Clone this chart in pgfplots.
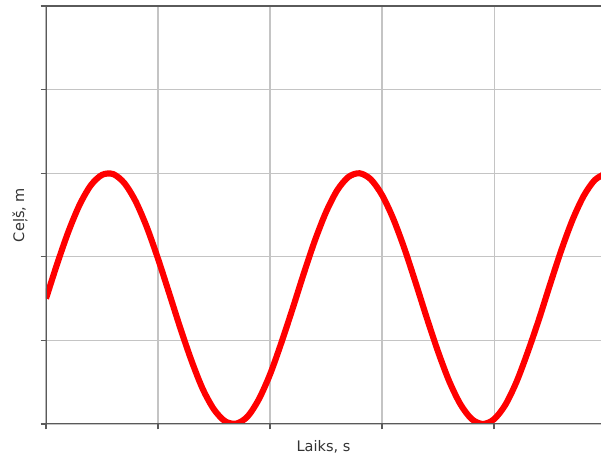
\documentclass[border=0pt]{standalone}
\usepackage{pgfplots}
\pgfplotsset{compat=1.18}
\usepackage{fontspec}
\setmainfont{DejaVu Sans}
\usetikzlibrary{calc}
\definecolor{spine}{HTML}{5A5A5A}
\definecolor{gridc}{HTML}{C4C4C4}
\definecolor{curve}{HTML}{FF0000}

\pgfplotstableread{
x    y
0.0  1.500
0.1  1.917
0.2  2.301
0.3  2.622
0.4  2.855
0.5  2.980
0.6  2.989
0.7  2.881
0.8  2.664
0.9  2.355
1.0  1.977
1.1  1.563
1.2  1.144
1.3  0.754
1.4  0.417
1.5  0.174
1.6  0.032
1.7  0.005
1.8  0.090
1.9  0.295
2.0  0.593
2.1  0.967
2.2  1.373
2.3  1.794
2.4  2.192
2.5  2.534
2.6  2.796
2.7  2.955
2.8  2.999
2.9  2.926
3.0  2.739
3.1  2.456
3.2  2.098
3.3  1.690
3.4  1.268
3.5  0.866
3.6  0.511
3.7  0.236
3.8  0.060
3.9  0.000
4.0  0.057
4.1  0.227
4.2  0.502
4.3  0.857
4.4  1.248
4.5  1.669
4.6  2.077
4.7  2.439
4.8  2.727
4.9  2.919
5.0  2.998
}\pathdata

\begin{document}
\begin{tikzpicture}
\begin{axis}[
  name=ax,
  scale only axis,
  width=416.25pt, height=313.5pt,
  xmin=0, xmax=4.955, ymin=0, ymax=5,
  xtick={0,1,2,3,4}, ytick={0,1,2,3,4,5},
  xticklabels={}, yticklabels={},
  xtick pos=bottom, ytick pos=left,
  tick align=outside,
  major tick length=4pt,
  tick style={draw=spine, line width=0.9pt},
  grid=major,
  grid style={draw=gridc, line width=0.8pt},
  axis line style={draw=none},
  font=\fontsize{10.9}{13}\selectfont,
  xlabel={Laiks, s},
  ylabel={Ceļš, m},
  xlabel style={at={(axis description cs:0.5,-0.055)}, anchor=center, text=black!80},
  ylabel style={at={(axis description cs:-0.047,0.5)}, anchor=center, text=black!80},
  clip=true,
]
\addplot[curve, line width=4.6pt, smooth] table[x=x, y=y] {\pathdata};
\draw[spine, line width=1.3pt] (rel axis cs:0,0) -- (rel axis cs:0,1);
\draw[spine, line width=1.3pt] (rel axis cs:0,0) -- (rel axis cs:1,0);
\draw[spine, line width=1.3pt] (rel axis cs:0,1) -- (rel axis cs:1,1);
\end{axis}
\pgfresetboundingbox
\useasboundingbox ($(ax.south west)+(-34.5pt,-27.75pt)$) rectangle ($(ax.north east)+(0,4.5pt)$);
\end{tikzpicture}
\end{document}
